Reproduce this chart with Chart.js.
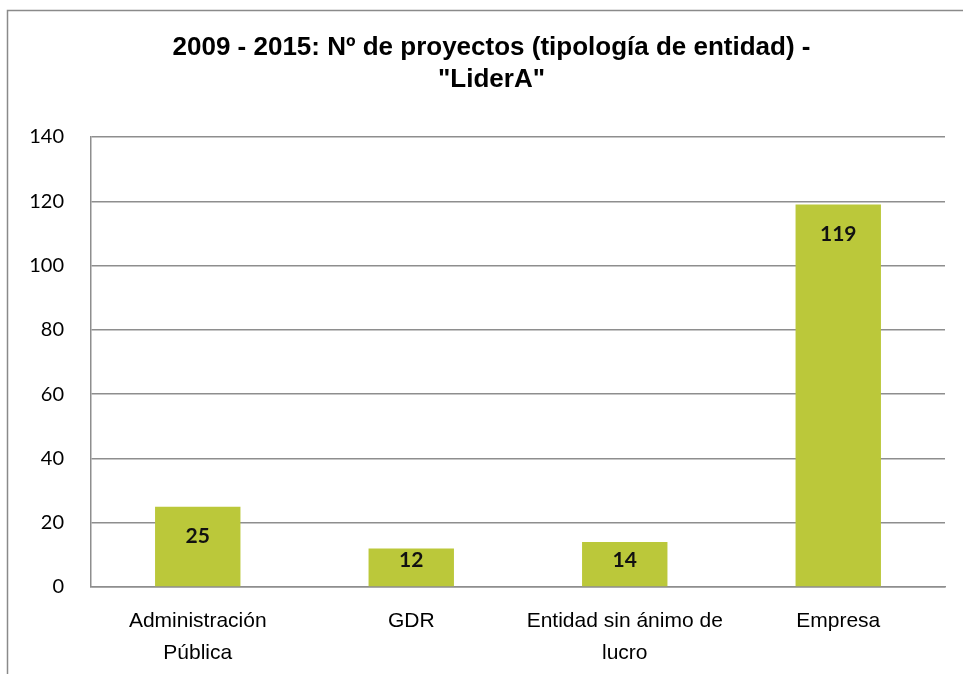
<!DOCTYPE html>
<html>
<head>
<meta charset="utf-8">
<script src="https://cdn.jsdelivr.net/npm/chart.js@4"></script>
<style>
  html, body { margin: 0; padding: 0; background: #fff; }
  #wrap { width: 963px; height: 674px; position: relative; }
</style>
</head>
<body>
<div id="wrap"><canvas id="chart" width="963" height="674"></canvas></div>
<script>
  // ── Data ──
  var categories = [['Administración', 'Pública'], 'GDR', ['Entidad sin ánimo de', 'lucro'], 'Empresa'];
  var projectCounts = [25, 12, 14, 119];
  var titleLines = ['2009 - 2015: Nº de proyectos (tipología de entidad) -', '"LiderA"'];

  var BAR = 'rgb(187,200,58)';
  var GRID = '#8e8e8e';

  // ── Outer frame, as in the spreadsheet export ──
  var framePlugin = {
    id: 'frame',
    beforeDraw: function(chart) {
      var c = chart.ctx;
      c.save();
      c.strokeStyle = '#8a8a8a';
      c.lineWidth = 1.5;
      c.beginPath();
      c.moveTo(7.5, chart.height + 2);
      c.lineTo(7.5, 10.5);
      c.lineTo(chart.width + 2, 10.5);
      c.stroke();
      c.restore();
    }
  };

  // ── Value labels inside bar top (kept inside short bars) ──
  var valueLabels = {
    id: 'valueLabels',
    afterDatasetsDraw: function(chart) {
      var c = chart.ctx;
      var meta = chart.getDatasetMeta(0);
      c.save();
      c.font = 'bold 21px Lato, "Open Sans", sans-serif';
      c.fillStyle = '#111';
      c.textAlign = 'center';
      c.textBaseline = 'middle';
      meta.data.forEach(function(bar, i) {
        var y = Math.min(bar.y + 30, bar.base - 26);
        c.fillText(String(projectCounts[i]), bar.x, y);
      });
      c.restore();
    }
  };

  new Chart(document.getElementById('chart').getContext('2d'), {
    type: 'bar',
    data: {
      labels: categories,
      datasets: [{
        data: projectCounts,
        backgroundColor: BAR,
        borderWidth: 0,
        categoryPercentage: 1,
        barPercentage: 0.4
      }]
    },
    options: {
      responsive: false,
      animation: false,
      layout: { padding: { left: 20, right: 0, top: 0, bottom: 0 } },
      plugins: {
        legend: { display: false },
        tooltip: { enabled: false },
        title: {
          display: true,
          text: titleLines,
          color: '#000',
          font: { family: '"Liberation Sans", Arial, sans-serif', size: 26, weight: 'bold', lineHeight: 1.23 },
          padding: { top: 32, bottom: 41 }
        }
      },
      scales: {
        x: {
          grid: { display: false, drawTicks: false },
          border: { display: true, color: GRID, width: 1.5 },
          ticks: {
            color: '#000',
            padding: 18,
            maxRotation: 0,
            autoSkip: false,
            font: { family: '"Liberation Sans", Arial, sans-serif', size: 21, lineHeight: 1.52 }
          },
          afterFit: function(s) { s.height = 87; }
        },
        y: {
          min: 0, max: 140,
          grid: { color: GRID, lineWidth: 1.5, drawTicks: false },
          border: { display: true, color: GRID, width: 1.5 },
          ticks: {
            stepSize: 20,
            color: '#000',
            padding: 27,
            font: { family: 'Lato, "Open Sans", sans-serif', size: 20 }
          },
          afterFit: function(s) { s.width = 71; }
        },
        // empty spacer keeping the plot's right edge off the frame
        spacer: {
          type: 'linear',
          position: 'right',
          grid: { display: false, drawTicks: false },
          border: { display: false },
          ticks: { display: false },
          afterFit: function(s) { s.width = 18; }
        }
      }
    },
    plugins: [framePlugin, valueLabels]
  });
</script>
</body>
</html>
